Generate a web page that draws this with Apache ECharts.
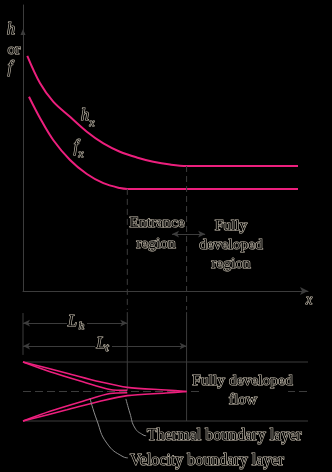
<!DOCTYPE html>
<html><head><meta charset="utf-8">
<script src="https://cdn.jsdelivr.net/npm/echarts@6/dist/echarts.min.js"></script>
<style>html,body{margin:0;padding:0;background:#000}#c{width:332px;height:472px}</style>
</head><body><div id="c"></div>
<script>
// ---- data (x in units of the top axis, 0..10) ----
const hxX = [0.15, 0.60, 1.06, 1.65, 2.24, 2.82, 3.40, 3.99, 4.57, 5.16, 5.74, 9.65];
const hxY = [8.22, 7.26, 6.62, 6.09, 5.57, 5.16, 4.87, 4.67, 4.52, 4.42, 4.37, 4.37];
const fxX = [0.21, 0.60, 1.06, 1.65, 2.24, 2.82, 3.40, 3.66, 9.65];
const fxY = [6.79, 6.04, 5.28, 4.58, 4.09, 3.77, 3.60, 3.57, 3.57];
const Lh = 3.66;          // hydrodynamic entry length
const Lt = 5.74;          // thermal entry length
const hFlat = 4.37, fFlat = 3.57;
// boundary layer edges in the tube (half-width units, wall = 1)
const velX = [0, 0.95, 2.10, 3.05, 3.66];
const velY = [1, 0.67, 0.33, 0.07, 0.04];
const thX  = [0, 1.54, 2.70, 3.66, 5.02, 5.74];
const thY  = [1, 0.62, 0.33, 0.14, 0.05, 0.0];
// leader lines of the annotations
const velLeadX = [2.35, 2.59, 2.94, 3.51, 3.68];
const velLeadY = [-0.23, -0.97, -1.75, -2.21, -2.25];
const thLeadX  = [3.61, 3.75, 3.93, 4.21, 4.32];
const thLeadY  = [-0.25, -0.73, -1.24, -1.47, -1.50];
const dimLhY = 2.32, dimLtY = 1.54;
const arrowSpan = [5.23, 6.39], arrowY = 1.99;

const PINK = '#ec1f7d', GRAY = '#3c3c3c', LGRAY = '#8c8c8c';
const zip = (a, b) => a.map((v, i) => [v, b[i]]);
const neg = a => a.map(v => -v);

const chart = echarts.init(document.getElementById('c'), null, {renderer: 'canvas'});

function line(data, idx, color, width, extra) {
  return Object.assign({
    type: 'line', xAxisIndex: idx, yAxisIndex: idx, data: data, symbol: 'none',
    silent: true, animation: false, clip: false,
    lineStyle: {color: color, width: width}
  }, extra || {});
}
function dim(y, x0, x1) {
  return {
    symbol: ['arrow', 'arrow'], symbolSize: [5, 7], silent: true, animation: false,
    label: {show: false}, lineStyle: {color: GRAY, type: 'solid', width: 1},
    data: [[{coord: [x0, y]}, {coord: [x1, y]}]]
  };
}

const series = [
  line(zip(hxX, hxY), 0, PINK, 2, {smooth: 0.35}),
  line(zip(fxX, fxY), 0, PINK, 2, {smooth: 0.35,
    markLine: dim(arrowY, arrowSpan[0], arrowSpan[1]),
    markPoint: {symbol: 'triangle', symbolSize: [5, 6], silent: true, animation: false,
      itemStyle: {color: GRAY}, label: {show: false}, data: [{coord: [0, 9.06]}]}}),
  line([[Lh, fFlat], [Lh, -0.66]], 0, GRAY, 1, {lineStyle: {color: GRAY, width: 1, type: [6, 4]}}),
  line([[Lt, hFlat], [Lt, -0.66]], 0, GRAY, 1, {lineStyle: {color: GRAY, width: 1, type: [6, 4]}}),
  // tube
  line([[0, 1], [10, 1]], 1, GRAY, 1),
  line([[0, -1], [10, -1]], 1, GRAY, 1),
  line([[0, 0], [10, 0]], 1, GRAY, 1, {lineStyle: {color: GRAY, width: 1, type: [8, 4]}}),
  line([[0, 2.66], [0, 1.24]], 1, GRAY, 1),
  line([[Lh, 2.69], [Lh, 0.04]], 1, GRAY, 1, {markLine: dim(dimLhY, 0, Lh)}),
  line([[Lt, 2.69], [Lt, -1]], 1, GRAY, 1, {markLine: dim(dimLtY, 0, Lt)}),
  line(zip(velX, velY), 1, PINK, 1.6, {smooth: 0.3}),
  line(zip(velX, neg(velY)), 1, PINK, 1.6, {smooth: 0.3}),
  line(zip(thX, thY), 1, PINK, 1.6, {smooth: 0.3}),
  line(zip(thX, neg(thY)), 1, PINK, 1.6, {smooth: 0.3}),
  line(zip(velLeadX, velLeadY), 1, LGRAY, 1, {smooth: 0.5}),
  line(zip(thLeadX, thLeadY), 1, LGRAY, 1, {smooth: 0.5})
];

const SERIF = '"Liberation Serif", "DejaVu Serif", serif';
function txt(text, x, y, size, opts) {
  opts = opts || {};
  return {
    type: 'text', z: 100, silent: true,
    style: {
      text: text, x: x, y: y,
      font: (opts.italic ? 'italic ' : '') + size + 'px ' + SERIF,
      fill: '#000', stroke: '#cbc3b3', lineWidth: 1.2, strokeFirst: true,
      align: opts.align || 'center', verticalAlign: 'middle',
      textAlign: opts.align || 'center', textVerticalAlign: 'middle'
    }
  };
}
function blank(x, y, w, h) {
  return {type: 'rect', z: 90, silent: true, shape: {x: x, y: y, width: w, height: h}, style: {fill: '#000'}};
}

const graphics = [
  txt('h', 11, 30, 16, {italic: true}),
  txt('or', 14, 50, 15.5),
  txt('f', 10, 68, 16, {italic: true}),
  txt('h', 85, 116, 16, {italic: true}),
  txt('x', 92, 123, 11, {italic: true}),
  txt('f', 76, 147, 16, {italic: true}),
  txt('x', 81, 154, 11, {italic: true}),
  txt('Entrance', 157, 223, 15.5),
  txt('region', 156, 244, 15.5),
  txt('Fully', 231, 226, 15.5),
  txt('developed', 231, 245, 15.5),
  txt('region', 231, 264, 15.5),
  txt('x', 309, 300, 14, {italic: true}),
  blank(67, 316, 20, 14),
  txt('L', 72.5, 322, 16, {italic: true}),
  txt('h', 81.5, 326, 11, {italic: true}),
  blank(95, 339, 17, 14),
  txt('L', 101, 344, 16, {italic: true}),
  txt('t', 107, 348, 11, {italic: true}),
  blank(201, 386, 87, 12),
  txt('Fully developed', 242.5, 381, 15.5),
  txt('flow', 243, 400, 15.5),
  txt('Thermal boundary layer', 147, 436, 16, {align: 'left'}),
  txt('Velocity boundary layer', 130, 461, 16, {align: 'left'})
];

const hidden = {show: false};
chart.setOption({
  backgroundColor: '#000',
  animation: false,
  grid: [
    {left: 23, top: 5, width: 285, height: 286},
    {left: 23, top: 312, width: 285, height: 109}
  ],
  xAxis: [
    {type: 'value', gridIndex: 0, min: 0, max: 10,
     axisLine: {show: true, onZero: false, lineStyle: {color: GRAY, width: 1}, symbol: ['none', 'arrow'], symbolSize: [6, 8]},
     axisTick: hidden, axisLabel: hidden, splitLine: hidden},
    {type: 'value', gridIndex: 1, min: 0, max: 10, show: false, splitLine: hidden}
  ],
  yAxis: [
    {type: 'value', gridIndex: 0, min: 0, max: 10,
     axisLine: {show: true, onZero: false, lineStyle: {color: GRAY, width: 1}},
     axisTick: hidden, axisLabel: hidden, splitLine: hidden},
    {type: 'value', gridIndex: 1, min: -1, max: 2.695, show: false, splitLine: hidden}
  ],
  series: series,
  graphic: {elements: graphics}
});
</script>
</body></html>
